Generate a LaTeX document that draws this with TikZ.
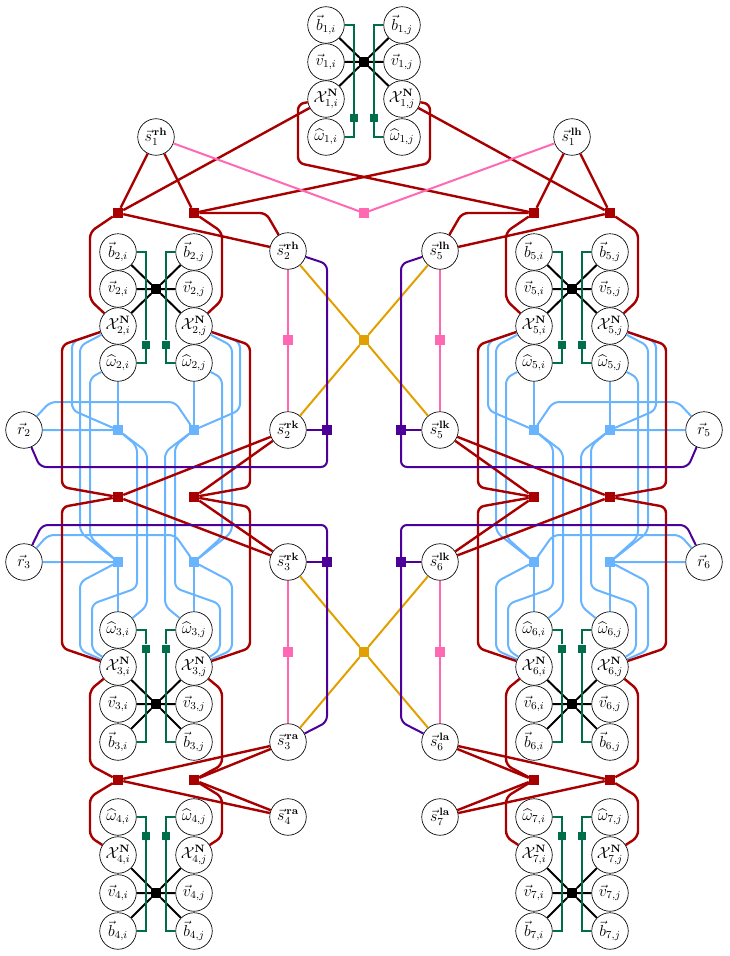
\documentclass[tikz,border=0pt]{standalone}
\usepackage{amsmath,amssymb}
\definecolor{jred}{RGB}{168,0,0}
\definecolor{lpink}{RGB}{255,105,180}
\definecolor{cgold}{RGB}{226,160,0}
\definecolor{cblue}{RGB}{105,180,255}
\definecolor{dpurple}{RGB}{76,0,153}
\definecolor{igreen}{RGB}{0,110,75}
\tikzset{
  varnode/.style={circle,draw,line width=0.5pt,fill=white,minimum size=27.4pt,inner sep=0pt,
    font=\fontsize{12}{14}\selectfont},
  facnode/.style={rectangle,minimum size=7pt,inner sep=0pt},
  kinln/.style={line width=1.5pt},
  itgln/.style={draw=igreen,line width=1.3pt},
  jntln/.style={draw=jred,line width=1.8pt,rounded corners=4.5pt},
  limln/.style={draw=lpink,line width=1.5pt},
  cplln/.style={draw=cgold,line width=1.5pt},
  cntln/.style={draw=cblue,line width=1.5pt,rounded corners=4.5pt},
  dynln/.style={draw=dpurple,line width=1.5pt,rounded corners=4.5pt}
}
\begin{document}
\begin{tikzpicture}[x=0.75pt,y=-0.75pt]
\useasboundingbox (0,0) rectangle (729,956);

% bodies: b, v, X, omega with their own factors
\foreach \bn/\cx/\yb/\yv/\yx/\yw in {1/364/25/62/99/137,2/156/252/289/326/363,3/156/742/704/667/630,4/156/931/893/855/817,5/572/252/289/326/363,6/572/742/704/667/630,7/572/931/893/855/817}{
  \node[varnode] (b\bn i) at (\cx-38,\yb) {$\vec{b}_{\bn,i}$};
  \node[varnode] (b\bn j) at (\cx+38,\yb) {$\vec{b}_{\bn,j}$};
  \node[varnode] (v\bn i) at (\cx-38,\yv) {$\vec{v}_{\bn,i}$};
  \node[varnode] (v\bn j) at (\cx+38,\yv) {$\vec{v}_{\bn,j}$};
  \node[varnode] (X\bn i) at (\cx-38,\yx) {$\mathcal{X}^{\mathbf{N}}_{\bn,i}$};
  \node[varnode] (X\bn j) at (\cx+38,\yx) {$\mathcal{X}^{\mathbf{N}}_{\bn,j}$};
  \node[varnode] (w\bn i) at (\cx-38,\yw) {$\widehat{\omega}_{\bn,i}$};
  \node[varnode] (w\bn j) at (\cx+38,\yw) {$\widehat{\omega}_{\bn,j}$};
  \node[facnode,fill=black] (k\bn) at (\cx,\yv) {};
  \node[facnode,fill=igreen,minimum size=6pt] (gi\bn) at (\cx-10,{(\yx+\yw)/2}) {};
  \node[facnode,fill=igreen,minimum size=6pt] (gj\bn) at (\cx+10,{(\yx+\yw)/2}) {};
  \draw[kinln] (k\bn) -- (b\bn i) (k\bn) -- (v\bn i) (k\bn) -- (X\bn i)
    (k\bn) -- (b\bn j) (k\bn) -- (v\bn j) (k\bn) -- (X\bn j);
  \draw[itgln] (b\bn i) -- (\cx-10,\yb) -- (gi\bn) -- (\cx-10,\yw) -- (w\bn i);
  \draw[itgln] (b\bn j) -- (\cx+10,\yb) -- (gj\bn) -- (\cx+10,\yw) -- (w\bn j);
}

% joint angles and r
\node[varnode] (s1rh) at (156,137) {$\vec{s}^{\,\mathbf{rh}}_{1}$};
\node[varnode] (s1lh) at (572,137) {$\vec{s}^{\,\mathbf{lh}}_{1}$};
\node[varnode] (s2rh) at (288,251) {$\vec{s}^{\,\mathbf{rh}}_{2}$};
\node[varnode] (s2rk) at (288,430) {$\vec{s}^{\,\mathbf{rk}}_{2}$};
\node[varnode] (s3rk) at (288,562) {$\vec{s}^{\,\mathbf{rk}}_{3}$};
\node[varnode] (s3ra) at (288,742) {$\vec{s}^{\,\mathbf{ra}}_{3}$};
\node[varnode] (s4ra) at (288,817) {$\vec{s}^{\,\mathbf{ra}}_{4}$};
\node[varnode] (s5lh) at (440,251) {$\vec{s}^{\,\mathbf{lh}}_{5}$};
\node[varnode] (s5lk) at (440,430) {$\vec{s}^{\,\mathbf{lk}}_{5}$};
\node[varnode] (s6lk) at (440,562) {$\vec{s}^{\,\mathbf{lk}}_{6}$};
\node[varnode] (s6la) at (440,742) {$\vec{s}^{\,\mathbf{la}}_{6}$};
\node[varnode] (s7la) at (440,817) {$\vec{s}^{\,\mathbf{la}}_{7}$};
\node[varnode] (r2) at (24,430) {$\vec{r}_2$};
\node[varnode] (r3) at (24,562) {$\vec{r}_3$};
\node[varnode] (r5) at (704,430) {$\vec{r}_5$};
\node[varnode] (r6) at (704,562) {$\vec{r}_6$};

% factors
\foreach \fn/\fx/\fy in {rhA/118/213,rhB/194/213,lhB/534/213,lhA/610/213,
    rkA/118/497,rkB/194/497,lkB/534/497,lkA/610/497,
    raA/118/780,raB/194/780,laB/534/780,laA/610/780}
  \node[facnode,fill=jred,minimum size=7.5pt] (\fn) at (\fx,\fy) {};
\foreach \fn/\fx/\fy in {pk1/364/213,pk2/288/340,pk3/440/340,pk4/288/652,pk5/440/652}
  \node[facnode,fill=lpink] (\fn) at (\fx,\fy) {};
\node[facnode,fill=cgold,minimum size=7.5pt] (og1) at (364,340) {};
\node[facnode,fill=cgold,minimum size=7.5pt] (og2) at (364,652) {};
\foreach \fn/\fx/\fy in {pu1/327/430,pu2/327/562,pu3/401/430,pu4/401/562}
  \node[facnode,fill=dpurple] (\fn) at (\fx,\fy) {};
\foreach \fn/\fx/\fy in {bl1/118/430,bl2/194/430,bl3/118/562,bl4/194/562,
    bl5/610/430,bl6/534/430,bl7/610/562,bl8/534/562}
  \node[facnode,fill=cblue] (\fn) at (\fx,\fy) {};

% contact lines
\draw[cntln] (r2) -- (bl1) (r2) -- (50,402) -- (175,402) -- (bl2);
\draw[cntln] (r3) -- (bl3) (r3) -- (48,535) -- (175,535) -- (bl4);
\draw[cntln] (w2i) -- (bl1) (w2j) -- (bl2) (w3i) -- (bl3) (w3j) -- (bl4);
\draw[cntln] (X2i) -- (72,342) -- (72,410) -- (bl1);
\draw[cntln] (X2i) -- (80,346) -- (80,532) -- (bl3);
\draw[cntln] (w2i) -- (90,378) -- (90,537) -- (bl3);
\draw[cntln] (bl1) -- (137,446) -- (137,588) -- (92,604) -- (92,650) -- (X3i);
\draw[cntln] (bl1) -- (147,452) -- (147,606) -- (w3i);
\draw[cntln] (bl3) -- (80,582) -- (80,650) -- (X3i);
\draw[cntln] (X2j) -- (240,342) -- (240,410) -- (bl2);
\draw[cntln] (X2j) -- (232,346) -- (232,532) -- (bl4);
\draw[cntln] (w2j) -- (222,378) -- (222,537) -- (bl4);
\draw[cntln] (bl2) -- (175,446) -- (175,588) -- (220,604) -- (220,650) -- (X3j);
\draw[cntln] (bl2) -- (165,452) -- (165,606) -- (w3j);
\draw[cntln] (bl4) -- (232,582) -- (232,650) -- (X3j);
\draw[cntln] (r5) -- (bl5) (r5) -- (678,402) -- (553,402) -- (bl6);
\draw[cntln] (r6) -- (bl7) (r6) -- (680,535) -- (553,535) -- (bl8);
\draw[cntln] (w5j) -- (bl5) (w5i) -- (bl6) (w6j) -- (bl7) (w6i) -- (bl8);
\draw[cntln] (X5j) -- (656,342) -- (656,410) -- (bl5);
\draw[cntln] (X5j) -- (648,346) -- (648,532) -- (bl7);
\draw[cntln] (w5j) -- (638,378) -- (638,537) -- (bl7);
\draw[cntln] (bl5) -- (591,446) -- (591,588) -- (636,604) -- (636,650) -- (X6j);
\draw[cntln] (bl5) -- (581,452) -- (581,606) -- (w6j);
\draw[cntln] (bl7) -- (648,582) -- (648,650) -- (X6j);
\draw[cntln] (X5i) -- (488,342) -- (488,410) -- (bl6);
\draw[cntln] (X5i) -- (496,346) -- (496,532) -- (bl8);
\draw[cntln] (w5i) -- (506,378) -- (506,537) -- (bl8);
\draw[cntln] (bl6) -- (553,446) -- (553,588) -- (508,604) -- (508,650) -- (X6i);
\draw[cntln] (bl6) -- (563,452) -- (563,606) -- (w6i);
\draw[cntln] (bl8) -- (496,582) -- (496,650) -- (X6i);

% joint lines
\draw[jntln] (s1rh) -- (rhA) (s1rh) -- (rhB) (s1lh) -- (lhA) (s1lh) -- (lhB);
\draw[jntln] (rhA) -- (X1i) (rhA) -- (s2rh) (lhA) -- (X1j) (lhA) -- (s5lh);
\draw[jntln] (rhA) -- (90,232) -- (90,300) -- (X2i);
\draw[jntln] (rhB) -- (222,232) -- (222,300) -- (X2j);
\draw[jntln] (rhB) -- (266,213) -- (s2rh);
\draw[jntln] (lhA) -- (638,232) -- (638,300) -- (X5j);
\draw[jntln] (lhB) -- (506,232) -- (506,300) -- (X5i);
\draw[jntln] (lhB) -- (462,213) -- (s5lh);
\draw[jntln] (X1i) -- (298,104) -- (298,163) -- (lhB);
\draw[jntln] (X1j) -- (430,104) -- (430,163) -- (rhB);
\draw[jntln] (s2rk) -- (rkA) (s2rk) -- (rkB) (s3rk) -- (rkA) (s3rk) -- (rkB);
\draw[jntln] (X2i) -- (62,345) -- (62,487) -- (rkA);
\draw[jntln] (rkA) -- (62,507) -- (62,648) -- (X3i);
\draw[jntln] (X2j) -- (250,345) -- (250,487) -- (rkB);
\draw[jntln] (rkB) -- (250,507) -- (250,648) -- (X3j);
\draw[jntln] (s5lk) -- (lkA) (s5lk) -- (lkB) (s6lk) -- (lkA) (s6lk) -- (lkB);
\draw[jntln] (X5j) -- (666,345) -- (666,487) -- (lkA);
\draw[jntln] (lkA) -- (666,507) -- (666,648) -- (X6j);
\draw[jntln] (X5i) -- (478,345) -- (478,487) -- (lkB);
\draw[jntln] (lkB) -- (478,507) -- (478,648) -- (X6i);
\draw[jntln] (s3ra) -- (raA) (s3ra) -- (raB) (s4ra) -- (raA) (s4ra) -- (raB);
\draw[jntln] (X3i) -- (90,690) -- (90,765) -- (raA);
\draw[jntln] (raA) -- (90,797) -- (90,837) -- (X4i);
\draw[jntln] (X3j) -- (222,690) -- (222,765) -- (raB);
\draw[jntln] (raB) -- (222,797) -- (222,837) -- (X4j);
\draw[jntln] (s6la) -- (laA) (s6la) -- (laB) (s7la) -- (laA) (s7la) -- (laB);
\draw[jntln] (X6j) -- (638,690) -- (638,765) -- (laA);
\draw[jntln] (laA) -- (638,797) -- (638,837) -- (X7j);
\draw[jntln] (X6i) -- (506,690) -- (506,765) -- (laB);
\draw[jntln] (laB) -- (506,797) -- (506,837) -- (X7i);

% limits and coupling
\draw[limln] (s1rh) -- (pk1) -- (s1lh);
\draw[limln] (s2rh) -- (pk2) -- (s2rk);
\draw[limln] (s5lh) -- (pk3) -- (s5lk);
\draw[limln] (s3rk) -- (pk4) -- (s3ra);
\draw[limln] (s6lk) -- (pk5) -- (s6la);
\draw[cplln] (s2rh) -- (og1) -- (s5lk) (s5lh) -- (og1) -- (s2rk);
\draw[cplln] (s3rk) -- (og2) -- (s6la) (s6lk) -- (og2) -- (s3ra);

% dynamics
\draw[dynln] (s2rh) -- (327,264) -- (pu1);
\draw[dynln] (pu1) -- (327,467) -- (40,467) -- (r2);
\draw[dynln] (s2rk) -- (pu1);
\draw[dynln] (r3) -- (42,525) -- (327,525) -- (pu2);
\draw[dynln] (pu2) -- (327,722) -- (s3ra);
\draw[dynln] (s3rk) -- (pu2);
\draw[dynln] (s5lh) -- (401,264) -- (pu3);
\draw[dynln] (pu3) -- (401,467) -- (688,467) -- (r5);
\draw[dynln] (s5lk) -- (pu3);
\draw[dynln] (r6) -- (686,525) -- (401,525) -- (pu4);
\draw[dynln] (pu4) -- (401,722) -- (s6la);
\draw[dynln] (s6lk) -- (pu4);
\end{tikzpicture}
\end{document}
